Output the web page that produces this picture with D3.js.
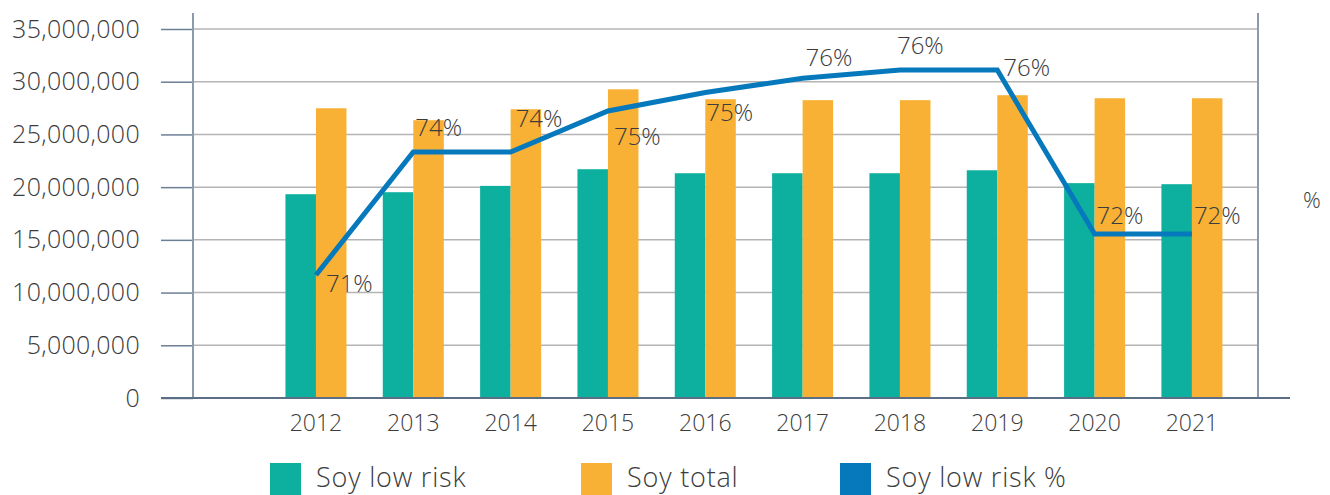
<!DOCTYPE html>
<html lang="en">
<head>
    <meta charset="UTF-8">
    <title>Soy low risk</title>
    <style>
        body { margin: 0; background: #fff; }
        text { font-family: "Open Sans", sans-serif; font-weight: 300; fill: #3c3c3c; }
    </style>
</head>
<body>
    <div class="container"></div>
    <script src="https://cdn.jsdelivr.net/npm/d3@7/dist/d3.min.js"></script>
    <script>
        const years = ['2012', '2013', '2014', '2015', '2016', '2017', '2018', '2019', '2020', '2021']
        const soyLowRisk = [19330000, 19520000, 20120000, 21700000, 21320000, 21320000, 21320000, 21600000, 20380000, 20280000]
        const soyTotal = [27480000, 26350000, 27390000, 29280000, 28340000, 28250000, 28250000, 28720000, 28430000, 28430000]
        const soyLowRiskPct = [0.710, 0.740, 0.740, 0.750, 0.7545, 0.758, 0.760, 0.760, 0.720, 0.720]
        const yTicks = [0, 5000000, 10000000, 15000000, 20000000, 25000000, 30000000, 35000000]
        const seriesNames = ['Soy low risk', 'Soy total', 'Soy low risk %']

        // hand placed label nudges (dx, dy) around each line point
        const labelNudge = [[10, 9], [2, -24], [5, -33], [6, 26], [1, 20], [3, -21], [-3, -24], [6, -2], [2, -18], [2, -18]]

        const width = 1330
        const height = 495
        const colors = ['#0db09e', '#f8b134', '#0679bd']

        const plotLeft = 193, plotRight = 1258, plotTop = 29, plotBottom = 398

        const svg = d3.select('.container').append('svg')
            .attr('width', width)
            .attr('height', height)

        const y = d3.scaleLinear().domain([0, 35000000]).range([plotBottom, plotTop])
        const yPct = d3.scaleLinear().domain([0.68, 0.77]).range([plotBottom, plotTop])

        const x0 = d3.scaleBand()
            .domain(years)
            .range([267.3, 1240.6])
            .paddingInner(0.373)
            .paddingOuter(0.1865)
        const x1 = d3.scaleBand()
            .domain(['low', 'total'])
            .range([0, x0.bandwidth()])

        // gridlines
        svg.append('g').selectAll('line')
            .data(yTicks.filter(d => d > 0))
            .join('line')
            .attr('x1', plotLeft).attr('x2', plotRight)
            .attr('y1', d => y(d)).attr('y2', d => y(d))
            .attr('stroke', '#b4b4b4')
            .attr('stroke-width', 1.5)

        // left axis
        const leftAxis = d3.axisLeft(y)
            .tickValues(yTicks)
            .tickSize(32)
            .tickPadding(21)
            .tickFormat(d3.format(','))
        const leftAxisGroup = svg.append('g')
            .attr('transform', `translate(${plotLeft},0)`)
            .call(leftAxis)
        leftAxisGroup.select('.domain').remove()
        leftAxisGroup.selectAll('.tick line').attr('stroke', '#6b7f95').attr('stroke-width', 1.5)
        leftAxisGroup.selectAll('.tick text')
            .style('font-size', '25px')
            .style('letter-spacing', '0.3px')
            .attr('fill', '#3c3c3c')

        // vertical axis lines
        svg.append('line')
            .attr('x1', plotLeft).attr('x2', plotLeft)
            .attr('y1', plotTop - 16).attr('y2', plotBottom)
            .attr('stroke', '#8c9aab').attr('stroke-width', 2)
        svg.append('line')
            .attr('x1', plotRight).attr('x2', plotRight)
            .attr('y1', plotTop - 16).attr('y2', plotBottom)
            .attr('stroke', '#8c9aab').attr('stroke-width', 2)

        // bars
        const groups = svg.append('g').selectAll('g')
            .data(years)
            .join('g')
            .attr('transform', d => `translate(${x0(d)},0)`)

        groups.append('rect')
            .attr('x', x1('low'))
            .attr('width', x1.bandwidth())
            .attr('y', (d, i) => y(soyLowRisk[i]))
            .attr('height', (d, i) => y(0) - y(soyLowRisk[i]))
            .attr('fill', colors[0])

        groups.append('rect')
            .attr('x', x1('total'))
            .attr('width', x1.bandwidth())
            .attr('y', (d, i) => y(soyTotal[i]))
            .attr('height', (d, i) => y(0) - y(soyTotal[i]))
            .attr('fill', colors[1])

        // baseline
        svg.append('line')
            .attr('x1', 161).attr('x2', 1290)
            .attr('y1', plotBottom).attr('y2', plotBottom)
            .attr('stroke', '#5a6e86').attr('stroke-width', 2)

        // bottom axis
        const bottomAxis = d3.axisBottom(x0).tickSize(0).tickPadding(17)
        const bottomAxisGroup = svg.append('g')
            .attr('transform', `translate(0,${plotBottom})`)
            .call(bottomAxis)
        bottomAxisGroup.select('.domain').remove()
        bottomAxisGroup.selectAll('.tick text')
            .style('font-size', '23px')
            .attr('fill', '#3c3c3c')

        // line
        const cx = d => x0(d) + x0.bandwidth() / 2
        const line = d3.line()
            .x(d => cx(d))
            .y((d, i) => yPct(soyLowRiskPct[i]))

        svg.append('path')
            .datum(years)
            .attr('d', line)
            .attr('fill', 'none')
            .attr('stroke', colors[2])
            .attr('stroke-width', 5)

        svg.append('g').selectAll('text')
            .data(years)
            .join('text')
            .attr('x', (d, i) => cx(d) + labelNudge[i][0])
            .attr('y', (d, i) => yPct(soyLowRiskPct[i]) + labelNudge[i][1])
            .attr('dy', '0.35em')
            .style('font-size', '24px')
            .text((d, i) => d3.format('.0%')(soyLowRiskPct[i]))

        // right axis title
        svg.append('text')
            .attr('x', 1303).attr('y', 200)
            .attr('dy', '0.35em')
            .style('font-size', '22px')
            .text('%')

        // legend
        const legendX = [270, 581, 840]
        const legend = svg.append('g').selectAll('g')
            .data(seriesNames)
            .join('g')
            .attr('transform', (d, i) => `translate(${legendX[i]},463)`)
        legend.append('rect')
            .attr('width', 31).attr('height', 32)
            .attr('fill', (d, i) => colors[i])
        legend.append('text')
            .attr('x', 46).attr('y', 24)
            .style('font-size', '27px')
            .style('letter-spacing', '0.8px')
            .text(d => d)
    </script>
</body>
</html>
